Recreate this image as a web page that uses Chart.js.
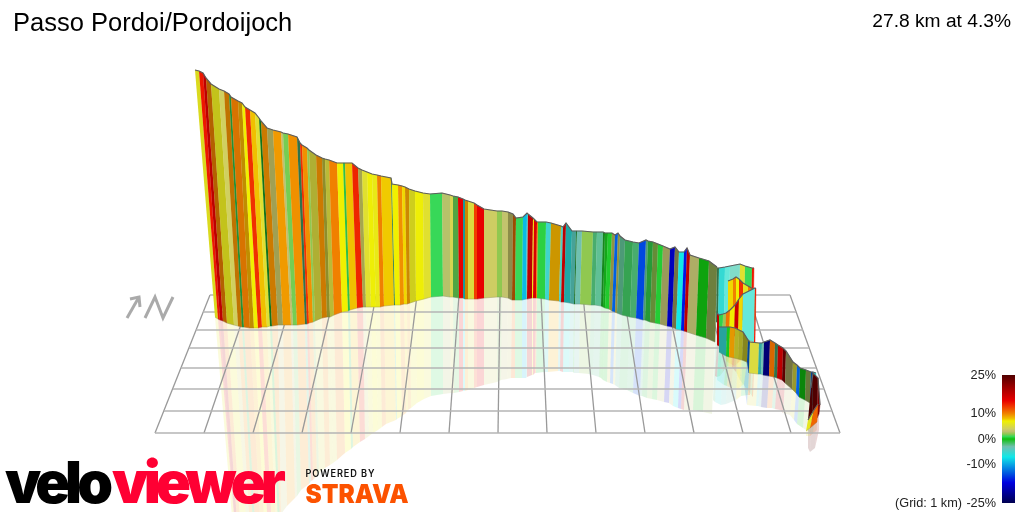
<!DOCTYPE html>
<html>
<head>
<meta charset="utf-8">
<title>Passo Pordoi/Pordoijoch</title>
<style>
  html, body { margin: 0; padding: 0; background: #fff; }
  canvas { display: block; }
</style>
<script src="https://cdn.jsdelivr.net/npm/chart.js@4"></script>
</head>
<body>
<canvas id="chart" width="1024" height="512"></canvas>
<script>
// wall vertices, one run after another: main climb, then the switchback layers
// a null grade ends a run
const topX = [
  195,199,203,206,211,219,224,229,231,238, 242,245,250,255,259,261,267,273,281,283,
  288,297,300,302,307,309,316,322,325,329, 337,343,345,352,358,362,367,372,377,381,
  391,392,398,402,405,409,415,423,430,442, 450,453,458,463,465,468,474,477,484,497,
  502,508,513,516,523,527,528,533,534,537, 538,546,551,561,563,566,572,576,577,582,
  593,597,603,605,608,612,615,618,620,625, 633,639,646,648,653,658,663,670,675,679,
  684,687,690,699,709,717,
  717,719,725,730,740,745,752,754,
  728,733,736,739,743,748,755,
  717,719,723,726,730,735,739,743,755,756,
  719,727,730,735,739,743,748,750,759,762,764,770,775,778,783,786,793,797,800,806,811,813,816,
  811,813,818,820,
  808,814,818
];
const topY = [
  70,71,73,78,84,89,91,94,97,101, 103,107,110,113,118,121,128,130,132,133,
  134,137,143,145,148,150,155,158,159,160, 163,163,163,163,168,170,172,174,175,176,
  178,184,185,186,187,189,191,193,194,193, 195,196,197,199,200,201,203,205,209,211,
  211,212,214,218,217,213,214,218,219,222, 222,222,223,226,227,223,231,231,231,231,
  232,232,232,233,233,233,235,233,236,240, 242,243,240,241,242,244,246,249,247,252,
  252,248,255,258,261,267,
  268,268,267,266,264,266,268,268,
  281,279,277,279,283,286,290,
  313,315,314,313,310,305,299,294,288,289,
  327,327,327,328,330,332,340,342,343,343,342,340,343,345,348,351,362,365,368,370,372,372,373,
  388,373,378,405,
  420,410,404
];
const baseX = [
  215,218,220,223,227,234,238,242,244,250, 254,258,262,267,270,272,278,283,291,293,
  297,305,307,309,313,315,322,327,330,334, 342,348,350,357,363,366,371,376,380,384,
  394,395,400,404,407,410,416,424,431,443, 450,453,459,463,465,468,474,477,484,497,
  502,508,512,515,522,526,527,532,533,536, 537,545,549,559,561,564,570,574,575,580,
  591,595,601,603,605,609,612,615,617,622, 630,636,643,645,650,655,660,667,672,676,
  681,684,687,696,706,715,
  716,718,724,729,739,744,751,753,
  728,733,736,739,743,748,755,
  717,719,722,725,729,734,738,742,754,755,
  719,726,729,734,738,742,747,749,758,761,763,769,774,777,782,785,792,796,799,805,810,812,815,
  808,812,817,819,
  806,810,817
];
const baseY = [
  317,319,320,321,323,325,326,327,327,328, 328,328,327,327,326,326,325,325,325,325,
  325,324,324,323,322,321,318,317,317,315, 312,311,310,308,307,307,307,307,307,306,
  305,305,305,304,304,303,301,299,297,296, 297,297,298,298,299,299,299,299,298,297,
  297,298,300,300,300,299,299,298,298,298, 298,299,300,301,302,302,303,304,304,304,
  305,305,306,307,308,309,311,312,313,315, 317,318,320,320,322,323,324,326,327,329,
  330,331,332,335,338,342,
  322,322,323,324,326,327,328,329,
  320,320,320,320,320,320,320,
  345,346,345,342,338,336,336,338,342,343,
  352,356,357,358,359,360,362,373,374,374,375,376,377,378,380,383,389,393,397,400,403,405,405,
  420,420,418,414,
  431,428,422
];
// lower edge of the pale reflection on the floor
const mirrorX = [
  235,237,237,239,242,248,251,254,256,261, 265,268,272,276,278,280,281,287,295,297,
  301,309,311,313,317,319,325,330,333,337, 345,351,353,360,365,369,373,378,382,386,
  396,397,402,406,408,411,417,424,431,443, 451,454,459,463,465,468,474,477,484,497,
  501,507,511,515,522,526,527,532,533,535, 536,544,548,558,560,563,569,573,574,579,
  589,593,599,601,603,607,610,613,615,619, 627,633,640,642,647,652,657,664,669,673,
  678,681,684,693,703,712,
  713,715,721,726,736,741,748,750,
  726,731,734,737,741,746,753,
  715,717,720,723,727,732,736,740,752,753,
  717,724,727,731,735,739,744,747,756,758,761,767,772,775,780,783,790,794,797,803,808,810,813,
  808,810,815,819,
  806,810,817
];
const mirrorY = [
  552,553,554,550,549,547,546,544,541,538, 536,533,531,529,524,521,514,506,498,496,
  490,484,481,480,476,473,468,465,463,460, 453,449,447,442,439,436,433,430,427,424,
  420,419,416,413,410,408,403,399,396,394, 393,393,392,391,391,390,388,387,385,382,
  380,379,378,378,378,378,377,375,375,373, 373,372,372,371,371,372,372,372,373,373,
  374,375,377,378,380,382,383,384,385,388, 390,393,396,396,398,399,400,402,403,406,
  408,409,410,410,412,414,
  400,402,405,404,400,396,395,395,
  361,364,366,364,360,357,353,
  376,377,376,372,366,367,372,380,396,397,
  380,385,386,388,388,388,384,405,406,406,407,408,408,409,410,413,415,420,424,428,431,433,434,
  448,452,448,430,
  436,436,430
];
// gradient in percent for the strip starting at each vertex
const grades = [
  6,14,18,10,6,4,9.5,-1,10,8.5, 7,13,8,5.5,-0.5,9.5,3.5,9.2,3,1.7,
  9.5,-2,13,9.5,2,5,9.5,5,5,10, 7,-1,8,13.5,4,5.5,6.8,6.3,10,7.8,
  -2,7,9.5,7.5,9,6,6.8,5.5,1,2.8, 4.5,1.5,15,-6,9,5,12.5,15,3.8,2,
  3.2,3.5,10.5,1,-9,-4,18,6.8,16,10, 0.7,-5,8.5,-4.5,18,-6,-4,-1,-3,2,
  -2,-2.5,-0.5,0.2,0.4,4,-13,4,-2.5,-1.5, -2,-14,-2.5,-1,2,0.5,3,-19,3,-7,
  -16,18,3,0,2.5,null,
  -2,-5.5,-4,-3,5.5,1,14,null,
  7.5,10,7,13,6,10,null,
  18,0.8,2.2,10.5,7,17,7.5,-4,14,null,
  -5.5,0.2,9,5.5,5.5,5.5,-13,5,-5,-3,-23,10.5,-2,18,18,3,5,-13,0,2.5,-13,-6,null,
  24,25,22,null,
  6,11,null
];
// how much each wall strip is darkened by the way it faces
const shades = [
  .95,1,1,.75,.85,1,.8,.75,.9,.8, 1,1,1,1,.6,.85,.8,1,1,1,
  1,.6,1,1,1,.8,.85,.65,.85,1, 1,1,1,1,.8,1,1,1,1,1,
  .7,1,1,1,.85,.9,1,1,1,1, 1,.8,1,.7,.85,1,1,1,1,1,
  1,.7,.65,1,1,1,1,1,1,1, 1,1,.85,1,1,.75,.8,.6,1,1,
  .9,1,.7,.85,1,.7,1,.7,.8,.85, .9,1,.8,.8,.7,1,.8,1,.6,1,
  1,1,.9,.85,.65,1,
  .6,1,1.15,1.15,1,1,1,1,
  1,1,1,1,1,1,1,
  1,1,1,1,1,1,1,1.15,1,1,
  .75,1,.95,.8,.75,.6,.7,1,.8,1,1,.9,.6,1,.5,.6,.7,1,.7,.6,.7,1,1,
  .8,1,1,1,
  1,1,1
];

// colour key
const keyGrades = [-25,-17,-13,-7,-3,0,1,2,3,4,7,8,10,13,15,20,25];
const keyColors = [[0,0,80],[0,0,224],[0,96,224],[16,232,232],[112,192,176],[16,192,16],[56,216,88],[144,200,80],
  [192,192,112],[208,208,96],[240,240,0],[240,192,0],[240,128,0],[240,48,0],[232,0,0],[160,0,0],[80,0,0]];
const keyLabels = ['25%','10%','0%','-10%','-25%'];
const keyLabelY = [375,413,439,464,503];

// floor grid
const rowY = [295,312,330,348,368,389,411,433];
const rowLeftX = [210,203,196,189,181,173,164,155];
const rowRightX = [790,796,803,809,816,824,832,840];
const colBottomX = [155,204,253,302,351,400,449,498,547,596,645,694,743,791,840];
const colTopX = [210,251,293,334,376,417,459,500,541,583,624,666,707,749,790];

const titleText = 'Passo Pordoi/Pordoijoch';
const summaryText = '27.8 km at 4.3%';
const gridNote = '(Grid: 1 km)';

function gradeRgb(g, shade) {
  let i = 0;
  while (i < keyGrades.length - 2 && g > keyGrades[i + 1]) i++;
  const t = (g - keyGrades[i]) / (keyGrades[i + 1] - keyGrades[i]);
  return keyColors[i].map((c, k) => Math.min(255, Math.round((c + (keyColors[i + 1][k] - c) * t) * shade)));
}

function polygon(points, color, edge) {
  return { data: points, showLine: true, fill: 'shape', backgroundColor: color, borderColor: edge,
    borderWidth: 0.4, pointRadius: 0, tension: 0 };
}
function stroke(points, color, width) {
  return { data: points, showLine: true, fill: false, borderColor: color, borderWidth: width,
    pointRadius: 0, tension: 0 };
}

const canvas = document.getElementById('chart');
const ctx = canvas.getContext('2d');

const mirrorSets = [];
const wallSets = [];   // walls and their outlines, in paint order
let topRun = [];
let baseRun = [];
grades.forEach((g, i) => {
  topRun.push({ x: topX[i], y: topY[i] });
  baseRun.push({ x: baseX[i], y: baseY[i] });
  if (g === null) {
    wallSets.push(stroke(baseRun, 'rgba(110,110,110,0.5)', 0.5));
    wallSets.push(stroke(topRun, '#5e5e5e', 1.2));
    topRun = [];
    baseRun = [];
    return;
  }
  const rgb = 'rgb(' + gradeRgb(g, shades[i]).join(',') + ')';
  const pale = 'rgba(' + gradeRgb(g, 1).join(',') + ',0.16)';
  mirrorSets.push(polygon([
    { x: baseX[i], y: baseY[i] }, { x: baseX[i + 1], y: baseY[i + 1] },
    { x: mirrorX[i + 1], y: mirrorY[i + 1] }, { x: mirrorX[i], y: mirrorY[i] }
  ], pale, 'transparent'));
  wallSets.push(polygon([
    { x: topX[i], y: topY[i] }, { x: topX[i + 1], y: topY[i + 1] },
    { x: baseX[i + 1], y: baseY[i + 1] }, { x: baseX[i], y: baseY[i] }
  ], rgb, rgb));
});

const gridSets = [];
rowY.forEach((y, i) => {
  gridSets.push(stroke([{ x: rowLeftX[i], y: y }, { x: rowRightX[i], y: y }], '#b4b4b4', 1.6));
});
colBottomX.forEach((x, i) => {
  gridSets.push(stroke([{ x: x, y: 433 }, { x: colTopX[i], y: 295 }], '#999999', 1.3));
});

// north arrow
const northSets = [
  stroke([{ x: 127, y: 318 }, { x: 139, y: 297 }], '#aaaaaa', 3),
  stroke([{ x: 130, y: 299 }, { x: 139, y: 297 }, { x: 140, y: 307 }], '#aaaaaa', 3),
  stroke([{ x: 145, y: 318 }, { x: 155, y: 297 }, { x: 163, y: 318 }, { x: 173, y: 297 }], '#aaaaaa', 3)
];

// colour key bar
const keyGradient = ctx.createLinearGradient(0, 375, 0, 503);
keyGrades.forEach((g, i) => {
  keyGradient.addColorStop((25 - g) / 50, 'rgb(' + keyColors[i].join(',') + ')');
});
const keySet = polygon([{ x: 1002, y: 375 }, { x: 1015, y: 375 }, { x: 1015, y: 503 }, { x: 1002, y: 503 }], keyGradient, 'transparent');

// painted back to front, chart.js draws the first dataset on top
const datasets = [keySet].concat(northSets, wallSets.slice().reverse(), gridSets, mirrorSets.slice().reverse());

function fitText(c, text, font, color, left, baseline, width, spacing) {
  c.save();
  c.font = font;
  c.fillStyle = color;
  c.letterSpacing = spacing || '0px';
  const w = c.measureText(text).width;
  c.translate(left, baseline);
  c.scale(width / w, 1);
  c.fillText(text, 0, 0);
  c.restore();
}

const labelsPlugin = {
  id: 'labels',
  afterDraw(chart) {
    const c = chart.ctx;
    c.save();
    c.textBaseline = 'alphabetic';
    c.fillStyle = '#000';
    c.font = '25.5px "Liberation Sans"';
    c.fillText(titleText, 13, 31);
    c.font = '19.2px "Liberation Sans"';
    c.textAlign = 'right';
    c.fillText(summaryText, 1011, 27);
    c.font = '12.7px "Liberation Sans"';
    c.fillStyle = '#222';
    keyLabels.forEach((t, i) => {
      c.fillText(t, 996, keyLabelY[i] + 4);
    });
    c.fillText(gridNote, 962, 507);
    c.restore();

    fitText(c, 'velo', '900 58px Inter', '#000', 5, 503, 103, '-5px');
    fitText(c, 'viewer', '900 58px Inter', '#ff0033', 112, 503, 169, '-5px');
    fitText(c, 'POWERED BY', '600 10px Inter', '#111', 305.5, 477, 70, '1px');
    fitText(c, 'STRAVA', '900 26px Inter', '#fc5200', 305.5, 503, 103);
  }
};

new Chart(canvas, {
  type: 'scatter',
  data: { datasets: datasets },
  plugins: [labelsPlugin],
  options: {
    responsive: false,
    animation: false,
    events: [],
    layout: { padding: 0 },
    scales: {
      x: { type: 'linear', min: 0, max: 1024, display: false },
      y: { type: 'linear', min: 0, max: 512, reverse: true, display: false }
    },
    plugins: { legend: { display: false }, tooltip: { enabled: false }, title: { display: false } }
  }
});
</script>
</body>
</html>
